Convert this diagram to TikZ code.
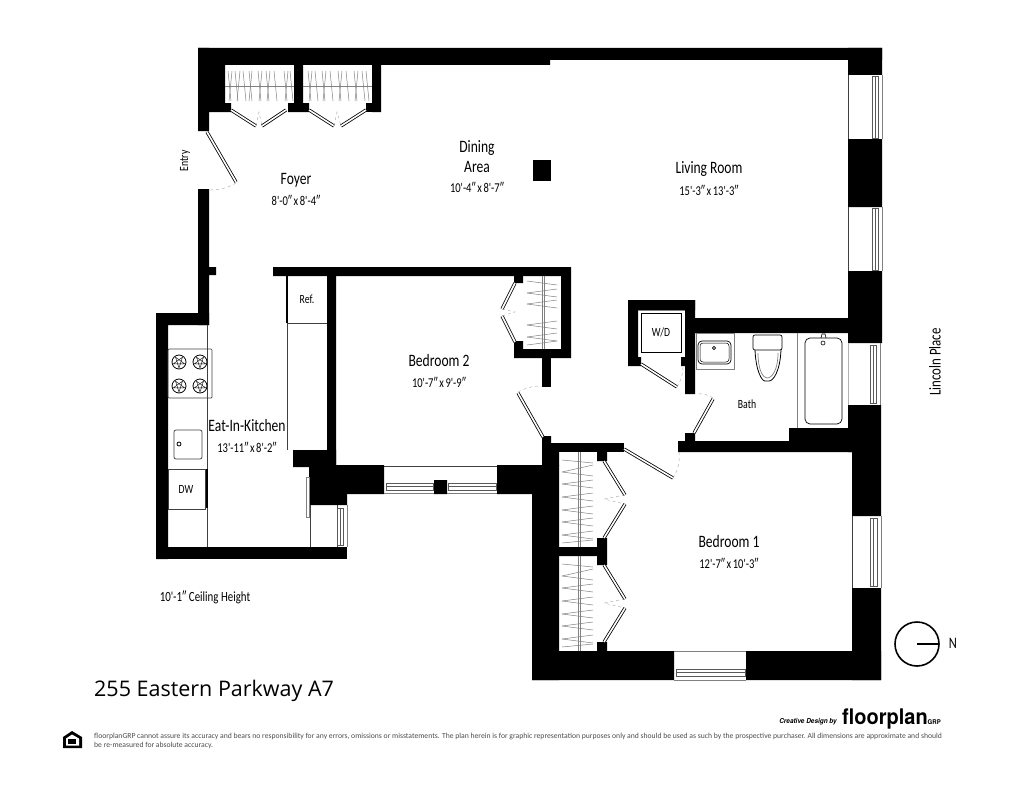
\documentclass[tikz,border=0pt]{standalone}
\usepackage{fontspec}
\usetikzlibrary{calc}
\setmainfont{Carlito}
\newfontfamily\labelfont[FakeStretch=0.78]{Carlito}
\newfontfamily\titlefont{Open Sans}
\newfontfamily\logofont[FakeStretch=0.93]{TeX Gyre Heros}
\newcommand\sizefont{\labelfont\fontsize{13.5}{13.5}\selectfont\setlength{\spaceskip}{1.6pt}}
\begin{document}
\begin{tikzpicture}[x=1pt,y=-1pt,
  wall/.style={fill=black,draw=none},
  thinline/.style={draw=black!75,line width=0.7pt},
  greyline/.style={draw=black!50,line width=0.7pt},
  sashline/.style={draw=black!65,line width=0.6pt},
  doorleaf/.style={double=white,draw=black,line width=0.8pt,double distance=1.6pt},
  swing/.style={draw=black!35,dashed,line width=0.4pt},
  roomname/.style={font=\labelfont\fontsize{17.4}{20}\selectfont,inner sep=0pt,align=center},
  roomsize/.style={font=\sizefont,inner sep=0pt},
  smalltext/.style={font=\labelfont\fontsize{12.5}{12.5}\selectfont,inner sep=0pt},
  hanger/.style={draw=black!50,line width=0.5pt}]

  % page
  \useasboundingbox (0,0) rectangle (1036,800);

  % outer walls and blocks
  \fill[wall] (198,48) rectangle (550,65) (550,48) rectangle (882,60);
  \fill[wall] (848,48) rectangle (882,75) (848,139) rectangle (882,207);
  \fill[wall] (848,271) rectangle (882,343) (848,405) rectangle (881,452);
  \fill[wall] (852,452) rectangle (881,516) (852,588) rectangle (881,680);
  \fill[wall] (198,48) rectangle (209,131) (198,65) rectangle (225,112);
  \fill[wall] (225,103) rectangle (231,112) (294,65) rectangle (303,103);
  \fill[wall] (288,103) rectangle (309,112) (372,65) rectangle (381,112);
  \fill[wall] (366,103) rectangle (372,112);
  \fill[wall] (198,189) rectangle (209,325) (209,267) rectangle (216,275);
  \fill[wall] (156,313) rectangle (209,325) (156,313) rectangle (168,559);
  \fill[wall] (156,547) rectangle (347,559);

  % inner walls
  \fill[wall] (533,160) rectangle (551,181);
  \fill[wall] (273,267) rectangle (571,276) (327,276) rectangle (336,465);
  \fill[wall] (293,450) rectangle (336,467) (309,465) rectangle (347,505);
  \fill[wall] (336,465) rectangle (384,494) (434,480) rectangle (447,494);
  \fill[wall] (497,465) rectangle (559,494) (532,494) rectangle (559,680);
  \fill[wall] (561,276) rectangle (571,358) (514,349) rectangle (561,358);
  \fill[wall] (514,276) rectangle (523,283) (514,341) rectangle (523,349);
  \fill[wall] (542,358) rectangle (551,387);
  \fill[wall] (542,436) rectangle (551,443) (542,443) rectangle (559,466);
  \fill[wall] (542,443) rectangle (624,452);
  \fill[wall] (597,452) rectangle (607,461) (597,538) rectangle (607,565);
  \fill[wall] (559,547) rectangle (597,556) (597,642) rectangle (607,651);
  \fill[wall] (532,651) rectangle (674,680) (746,651) rectangle (881,680);
  \fill[wall] (678,441) rectangle (852,452) (685,433) rectangle (695,441);
  \fill[wall] (789,428) rectangle (848,441);
  \fill[wall] (695,318) rectangle (848,333) (685,300) rectangle (695,394);
  \fill[wall] (628,300) rectangle (695,310) (628,300) rectangle (638,366);
  \fill[wall] (638,357) rectangle (641,366) (681,357) rectangle (685,366);

  % doors
  \foreach \ax/\ay/\bx/\by in {231/110/256/126,286/110/262/126,309/110/334/126,
      366/110/341/126,207/132/236/182,515/283/502/309,515/342/502/316,
      518/393/543/437,641/364/677/387,694/433/713/399,624/449/673/478,
      604/461/625/495,604/538/625/504,604/565/625/599,604/642/625/608}
    \draw[doorleaf] (\ax,\ay) -- (\bx,\by);
  \draw[swing] (236,183) to[bend left=14] (209,190);
  \draw[swing] (518,392) to[bend left=14] (542,386);
  \draw[swing] (677,387) to[bend right=14] (683,367);
  \draw[swing] (713,398) to[bend right=20] (697,394);
  \draw[swing] (673,478) to[bend right=18] (679,452);
  \draw[swing] (256,126) -- (259,112) -- (262,126);
  \draw[swing] (334,126) -- (337,112) -- (341,126);
  \draw[swing] (502,309) -- (515,312) -- (502,316);
  \draw[swing] (625,495) -- (604,499) -- (625,504);
  \draw[swing] (625,599) -- (604,603) -- (625,608);

  % closet rails
  \draw[hanger] (225,86) -- (294,86) (303,86) -- (372,86);
  \foreach \x/\dx in {228/3,235/3,243/3,249/3,258/3,266/3,274/3,284/3,290/3,
      308/3,315/3,322/3,330/3,338/3,346/3,354/3,362/3,366/3}
    \draw[hanger] (\x,71) -- (\x+\dx,101);
  \foreach \x/\dx in {232/-3,240/-3,252/-3,262/-3,270/-3,288/-3,
      312/-3,326/-3,342/-3,358/-3}
    \draw[hanger] (\x,71) -- (\x+\dx,101);
  \draw[hanger] (542,276) -- (542,349) (544,276) -- (544,349);
  \foreach \ya/\yb in {281/285,293/289,293/297,304/300,304/308,325/321,325/329,
      337/333,337/341,345/341}
    \draw[hanger] (527,\ya) -- (557,\yb);
  \foreach \xa/\ta/\tb in {578/452/547,578/556/651}
    \draw[hanger] (\xa,\ta) -- (\xa,\tb) (\xa+2,\ta) -- (\xa+2,\tb);
  \foreach \ya/\yb in {460/463,472/465,472/476,484/480,484/488,497/493,497/501,
      510/506,510/514,522/518,522/526,535/531,535/539,543/540,
      564/567,576/569,576/580,588/584,588/592,601/597,601/605,
      614/610,614/618,626/622,626/630,639/635,639/643,647/644}
    \draw[hanger] (562,\ya) -- (593,\yb);

  % kitchen fittings
  \draw[thinline] (207,325) -- (207,547) (287,276) -- (287,450) (287,323) -- (327,323);
  \draw[black,line width=1.2pt] (287,276) -- (287,323);
  \draw[thinline,rounded corners=1pt] (168,349) rectangle (212,398);
  \foreach \bx/\by in {179/362,200/362,179/386,200/386} {
    \draw[black,line width=0.8pt] (\bx,\by) circle (7);
    \draw[black,line width=0.4pt] ($(\bx,\by)+(90:6)$) -- ($(\bx,\by)+(234:6)$) -- ($(\bx,\by)+(18:6)$) -- ($(\bx,\by)+(162:6)$) -- ($(\bx,\by)+(306:6)$) -- cycle;
  }
  \draw[thinline,rounded corners=2pt] (174,430) rectangle (202,459);
  \draw[black,line width=0.8pt] (179,444) circle (2);
  \draw[thinline] (168,469) rectangle (205,509);
  \fill[wall] (206,469) rectangle (208,508);
  \draw[thinline] (310,505) -- (310,547);
  \draw[greyline] (306,477) rectangle (309,517);

  % windows
  \draw[thinline] (848,75) -- (848,139) (848,207) -- (848,271);
  \draw[draw=black!30,line width=0.5pt] (848,343) -- (848,405);
  \draw[greyline] (882,75) -- (882,139) (882,207) -- (882,271) (880,343) -- (880,405);
  \draw[sashline] (872,76) rectangle (878,138) (875,76) -- (875,138);
  \draw[sashline] (872,208) rectangle (878,270) (875,208) -- (875,270);
  \draw[sashline] (870,345) rectangle (876,403) (873,345) -- (873,403);
  \draw[thinline] (852,516) -- (852,588);
  \draw[greyline] (881,516) -- (881,588);
  \draw[sashline] (870,518) rectangle (877,586) (873,518) -- (873,586);
  \draw[thinline] (384,466) -- (497,466);
  \draw[greyline] (384,493.5) -- (434,493.5) (447,493.5) -- (497,493.5);
  \draw[sashline] (386,483) rectangle (433,490) (386,486.5) -- (433,486.5);
  \draw[sashline] (448,483) rectangle (496,490) (448,486.5) -- (496,486.5);
  \draw[thinline] (337,505) -- (337,547);
  \draw[greyline] (347,505) -- (347,547);
  \draw[sashline] (337,508) rectangle (343,545) (340,508) -- (340,545);
  \draw[greyline] (674,651) -- (746,651) (674,680) -- (746,680);
  \draw[sashline] (676,669) rectangle (745,676) (676,672.5) -- (745,672.5);

  % laundry and bath
  \draw[greyline] (638,310) -- (685,310);
  \draw[black,line width=0.8pt] (641,313) rectangle (681,352);
  \draw[greyline] (696,333) rectangle (734,369);
  \draw[black,line width=0.7pt,rounded corners=4pt] (698,341) rectangle (731,364);
  \draw[black,line width=0.5pt,rounded corners=3pt] (700,343) rectangle (729,362);
  \draw[black,line width=0.6pt] (714,348) circle (1.6);
  \draw[black,line width=0.7pt,rounded corners=2pt] (753,335) rectangle (782,350);
  \draw[black,line width=0.8pt,rounded corners=2pt] (755,350) .. controls (756,372) and (762,381) .. (767,381) .. controls (773,381) and (780,372) .. (781,350);
  \draw[greyline] (758,353) .. controls (758,370) and (763,378) .. (767,378) .. controls (772,378) and (778,370) .. (778,353);
  \draw[greyline] (797,333) -- (797,428);
  \draw[black,line width=0.7pt,rounded corners=5pt] (805,338) rectangle (842,424);
  \draw[black,line width=0.6pt] (823,343) circle (2);
  \draw[black,line width=0.6pt] (821,338) -- (822,334) -- (825,334) -- (826,338);

  % labels
  \node[roomname] (foyer) at (296,180) {Foyer};
  \node[roomsize] (foyersize) at (296,200) {8'-0″ x 8'-4″};
  \node[roomname] (dining) at (477,157) {Dining\\Area};
  \node[roomsize] (diningsize) at (477,187) {10'-4″ x 8'-7″};
  \node[roomname] (living) at (709,169) {Living Room};
  \node[roomsize] (livingsize) at (709,190) {15'-3″ x 13'-3″};
  \node[roomname] (bedtwo) at (439,361) {Bedroom 2};
  \node[roomsize] (bedtwosize) at (439,382) {10'-7″ x 9'-9″};
  \node[roomname] (kitchen) at (247,426) {Eat-In-Kitchen};
  \node[roomsize] (kitchensize) at (247,447) {13'-11″ x 8'-2″};
  \node[roomname] (bedone) at (729,542) {Bedroom 1};
  \node[roomsize] (bedonesize) at (729,563) {12'-7″ x 10'-3″};
  \node[smalltext] (bath) at (747,404) {Bath};
  \node[smalltext] (ref) at (307,299) {Ref.};
  \node[smalltext] (dw) at (186,489) {DW};
  \node[smalltext] (wd) at (661,332) {W/D};
  \node[smalltext,rotate=90] (entry) at (185,161) {Entry};
  \node[roomname,font=\labelfont\fontsize{16.5}{17}\selectfont,rotate=90] (lincoln) at (935,362) {Lincoln Place};
  \node[roomsize,font=\labelfont\fontsize{14}{14}\selectfont] (ceiling) at (205,597) {10'-1″ Ceiling Height};

  % compass
  \coordinate (hub) at (917,644);
  \coordinate (tip) at (939,644);
  \draw[black,line width=1.6pt] (hub) circle (22);
  \draw[black,line width=1.6pt] (hub) -- (tip);
  \node[smalltext,font=\labelfont\fontsize{16}{16}\selectfont] (north) at (953,643) {N};

  % title and footer
  \node[inner sep=0pt,anchor=west,font=\titlefont\fontsize{21.5}{21.5}\selectfont] (title) at (94,691) {255 Eastern Parkway A7};
  \node[inner sep=0pt,anchor=north west,align=left,text=black!70,font=\fontsize{7.67}{9.3}\selectfont] (disclaimer) at (94,733)
    {floorplanGRP cannot assure its accuracy and bears no responsibility for any errors, omissions or misstatements. The plan herein is for graphic representation purposes only and should be used as such by the prospective purchaser. All dimensions are approximate and should\\be re-measured for absolute accuracy.};
  \node[inner sep=0pt,anchor=east,font=\logofont\bfseries\itshape\fontsize{6.9}{6.9}\selectfont] (creative) at (837,722) {Creative Design by};
  \node[inner sep=0pt,anchor=base west,font=\logofont\bfseries\fontsize{21.5}{21.5}\selectfont] (logo) at (842,724) {floorplan};
  \node[inner sep=0pt,anchor=base west,font=\logofont\bfseries\fontsize{6.5}{6.5}\selectfont] (grp) at (927.5,724) {GRP};

  % fair housing mark
  \fill[black] (72,731) -- (82,737) -- (82,748) -- (63,748) -- (63,737) -- cycle;
  \fill[white] (72,734.5) -- (79,738.5) -- (79,745.5) -- (66,745.5) -- (66,738.5) -- cycle;
  \fill[black] (68,739) rectangle (76,744);
\end{tikzpicture}
\end{document}
